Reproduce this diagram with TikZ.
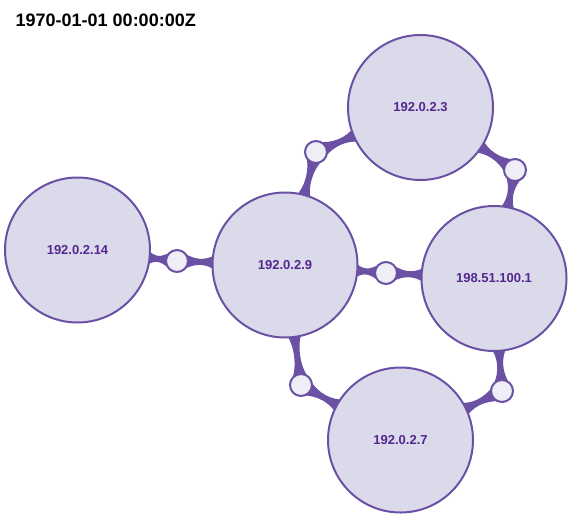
\documentclass[tikz,border=0pt]{standalone}
\usepackage{fontspec}
\setmainfont{Liberation Sans}
\usetikzlibrary{calc}
\definecolor{linkc}{HTML}{6A51A3}
\definecolor{nodefill}{HTML}{DADAEB}
\definecolor{hubfill}{HTML}{EFEDF5}
\definecolor{labelc}{HTML}{54278F}
\tikzset{
  host/.style={circle, draw=linkc, line width=2pt, fill=nodefill, minimum size=145pt, inner sep=0pt,
    font=\fontsize{13}{15}\selectfont\bfseries, text=labelc},
  hub/.style={circle, draw=linkc, line width=2pt, fill=hubfill, minimum size=22pt, inner sep=0pt},
  title/.style={anchor=base west, font=\fontsize{18}{21}\selectfont\bfseries, text=black}
}
\newcommand\halflink[2]{%
 \fill[linkc]
 ($(#1)!68pt!(#2)!8.5pt!90:(#2)$)
 .. controls ($(#1)!80pt!(#2)!1.2pt!90:(#2)$) and ($(#2)!19pt!(#1)!1.2pt!-90:(#1)$) .. ($(#2)!6pt!(#1)!8.5pt!-90:(#1)$)
 -- ($(#2)!6pt!(#1)!8.5pt!90:(#1)$)
 .. controls ($(#2)!19pt!(#1)!1.2pt!90:(#1)$) and ($(#1)!80pt!(#2)!1.2pt!-90:(#2)$) .. ($(#1)!68pt!(#2)!8.5pt!-90:(#2)$)
 -- cycle;}
\begin{document}
\begin{tikzpicture}[x=1pt,y=-1pt]
\useasboundingbox (0,0) rectangle (572,519);
% coordinates of centers
\coordinate (n14) at (77.5,250);
\coordinate (n9) at (285,265);
\coordinate (n3) at (420.5,107.5);
\coordinate (n198) at (494,278.5);
\coordinate (n7) at (400.5,440);
\coordinate (h1) at (177,261);
\coordinate (h2) at (316,152);
\coordinate (h3) at (515,170);
\coordinate (h4) at (386,273);
\coordinate (h5) at (301,385);
\coordinate (h6) at (502,391);
% links
\halflink{n14}{h1}\halflink{n9}{h1}
\halflink{n9}{h2}\halflink{n3}{h2}
\halflink{n3}{h3}\halflink{n198}{h3}
\halflink{n9}{h4}\halflink{n198}{h4}
\halflink{n9}{h5}\halflink{n7}{h5}
\halflink{n198}{h6}\halflink{n7}{h6}
% hubs
\foreach \h in {h1,h2,h3,h4,h5,h6} \node[hub] (c\h) at (\h) {};
% hosts
\node[host] (a14) at (n14) {192.0.2.14};
\node[host] (a9) at (n9) {192.0.2.9};
\node[host] (a3) at (n3) {192.0.2.3};
\node[host] (a198) at (n198) {198.51.100.1};
\node[host] (a7) at (n7) {192.0.2.7};
% title
\node[title, inner sep=0pt] (ttl) at (15.5,26.5) {1970-01-01 00:00:00Z};
\end{tikzpicture}
\end{document}
